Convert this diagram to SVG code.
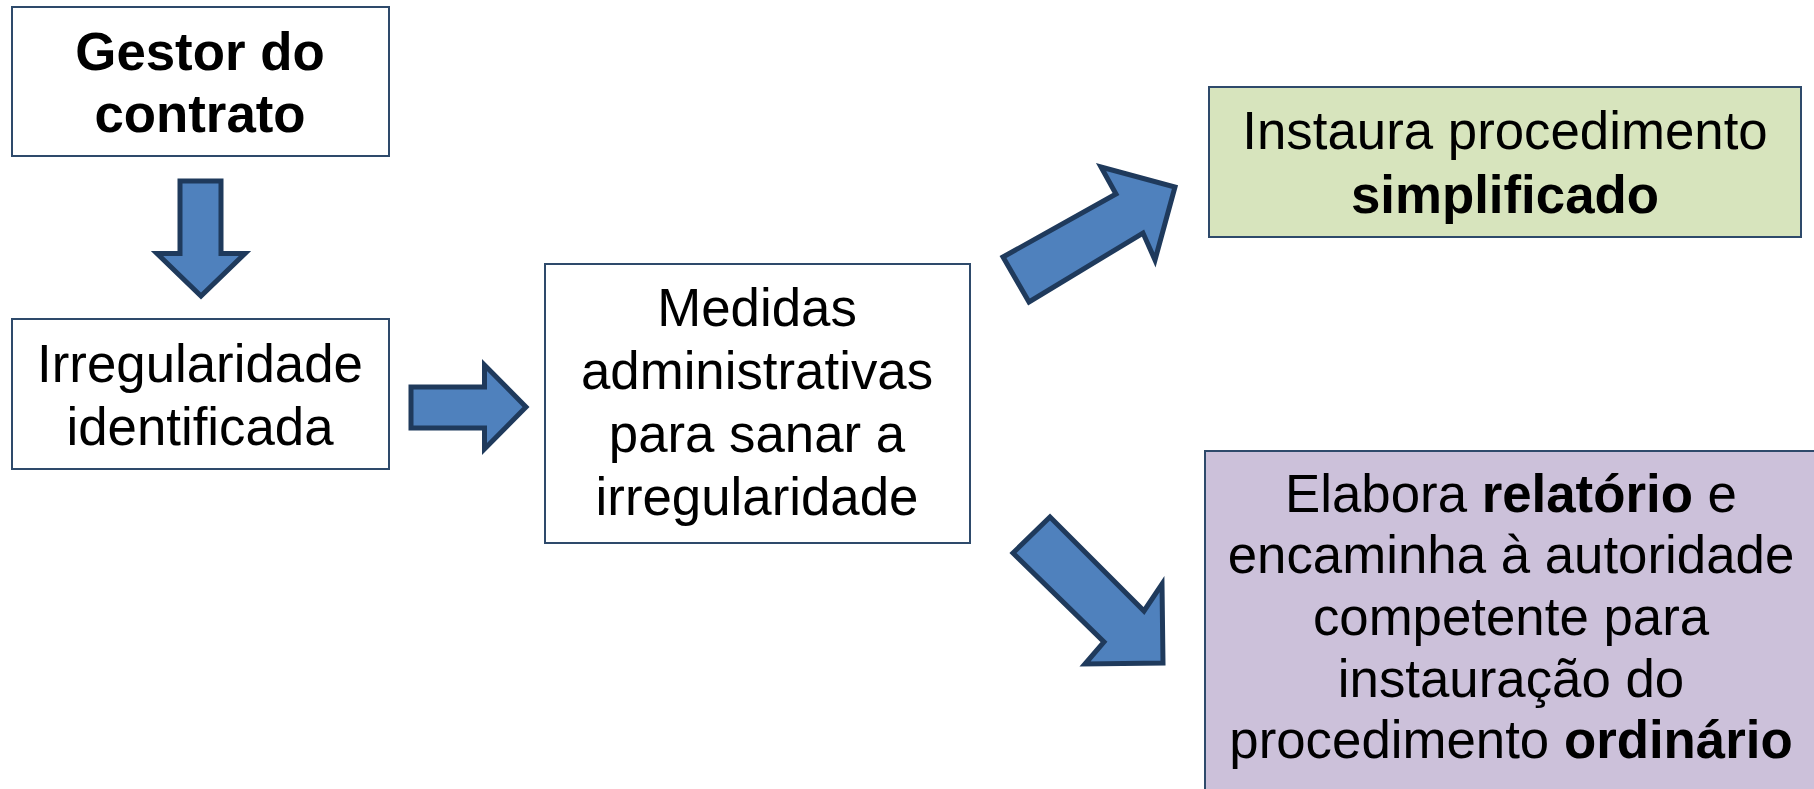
<svg xmlns="http://www.w3.org/2000/svg" width="1814" height="789" viewBox="0 0 1814 789">
<style>
.box{stroke:#2E4A6B;stroke-width:2}
.arrow{fill:#4F81BD;stroke:#1F3A5C;stroke-width:5;stroke-linejoin:miter}
text{font-family:"Liberation Sans",Arial,sans-serif;font-size:52.8px;fill:#000;text-anchor:middle}
.b{font-weight:bold}
</style>
<rect width="1814" height="789" fill="#fff"/>
<g id="connectors">
<polygon class="arrow" points="180,181 221,181 221,253.5 245,253.5 201,296 157,253.5 180,253.5"/>
<polygon class="arrow" points="411,387 484.5,387 484.5,365 526,407 484.5,449 484.5,428 411,428"/>
<polygon class="arrow" points="1003,257 1116,194 1101,167 1175,187 1155,260 1143,233 1029,302"/>
<polygon class="arrow" points="1050,517 1144,611 1162,584 1163,663 1085,664 1104,642 1013,553"/>
</g>
<g id="gestor">
<rect class="box" x="12" y="7" width="377" height="149" fill="#fff"/>
<text class="b" x="200" y="70">Gestor do</text>
<text class="b" x="200" y="132">contrato</text>
</g>
<g id="irregularidade">
<rect class="box" x="12" y="319" width="377" height="150" fill="#fff"/>
<text x="200" y="382">Irregularidade</text>
<text x="200" y="445">identificada</text>
</g>
<g id="medidas">
<rect class="box" x="545" y="264" width="425" height="279" fill="#fff"/>
<text x="757" y="326">Medidas</text>
<text x="757" y="389">administrativas</text>
<text x="757" y="452">para sanar a</text>
<text x="757" y="515">irregularidade</text>
</g>
<g id="simplificado">
<rect class="box" x="1209" y="87" width="592" height="150" fill="#D7E4BD"/>
<text x="1505" y="149">Instaura procedimento</text>
<text class="b" x="1505" y="213">simplificado</text>
</g>
<g id="ordinario">
<rect class="box" x="1205" y="451" width="620" height="360" fill="#CCC1DA"/>
<text x="1511" y="512">Elabora <tspan class="b">relatório</tspan> e</text>
<text x="1511" y="573">encaminha à autoridade</text>
<text x="1511" y="635">competente para</text>
<text x="1511" y="697">instauração do</text>
<text x="1511" y="758">procedimento <tspan class="b">ordinário</tspan></text>
</g>
</svg>
